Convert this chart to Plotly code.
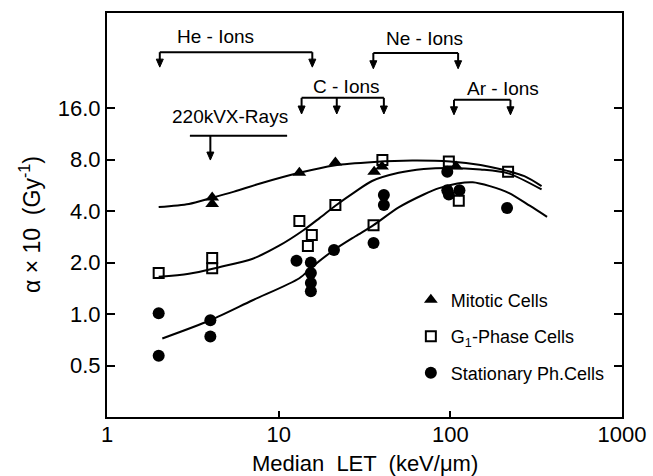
import numpy as np
import plotly.graph_objects as go

# ---- data ----
mit_let = [4.1, 4.1, 13.2, 21.4, 36.0, 40.0, 108.0]
mit_val = [4.8, 4.4, 6.7, 7.7, 6.8, 7.3, 7.3]

g1_let = [2.0, 4.1, 4.1, 13.2, 15.6, 14.8, 21.4, 35.7, 40.2, 98.0, 112.0, 217.0]
g1_val = [1.74, 2.13, 1.85, 3.5, 2.9, 2.5, 4.34, 3.31, 7.95, 7.8, 4.6, 6.8]

st_let = [2.0, 2.0, 4.0, 4.0, 12.7, 15.4, 15.4, 15.4, 15.4, 21.0, 35.7, 41.0, 41.0, 96.0, 96.0, 113.0, 98.0, 214.0]
st_val = [1.01, 0.57, 0.92, 0.74, 2.05, 2.0, 1.74, 1.52, 1.36, 2.37, 2.6, 4.96, 4.34, 6.8, 5.3, 5.3, 5.0, 4.17]

# fitted curves (knots)
mit_curve_let = [2.0, 3.0, 4.0, 5.5, 7.8, 13.2, 21.0, 36.0, 60.0, 100.0, 150.0, 200.0, 270.0, 340.0]
mit_curve_val = [4.22, 4.4, 4.75, 5.2, 5.8, 6.7, 7.4, 7.75, 7.9, 7.8, 7.45, 7.0, 6.4, 5.6]

g1_curve_let = [2.0, 3.0, 4.5, 7.0, 10.0, 14.0, 17.3, 21.4, 28.0, 35.0, 50.0, 70.0, 100.0, 150.0, 217.0, 340.0]
g1_curve_val = [1.65, 1.72, 1.88, 2.1, 2.5, 3.1, 3.64, 4.3, 5.2, 6.0, 6.7, 7.05, 7.15, 7.0, 6.65, 5.35]

st_curve_let = [2.1, 4.0, 7.0, 13.2, 15.6, 21.0, 28.0, 35.7, 50.0, 70.0, 86.0, 110.0, 135.0, 170.0, 220.0, 290.0, 366.0]
st_curve_val = [0.72, 0.92, 1.2, 1.62, 1.88, 2.37, 2.85, 3.31, 4.2, 5.0, 5.45, 5.8, 5.9, 5.6, 5.1, 4.3, 3.7]

# ion LET ranges (arrow positions)
he_let = [2.03, 15.7]
c_let = [13.6, 21.8, 41.0]
ne_let = [35.6, 111.0]
ar_let = [105.0, 224.0]
xray_line = [3.04, 11.2]
xray_let = [4.0]

x_ticks = [1, 10, 100, 1000]
x_ticklabels = ["1", "10", "100", "1000"]
y_ticks = [0.5, 1.0, 2.0, 4.0, 8.0, 16.0]
y_ticklabels = ["0.5", "1.0", "2.0", "4.0", "8.0", "16.0"]

FONT = "Liberation Sans"
PLOT_H = 404
PLOT_W = 515

fig = go.Figure()

for xs, ys in [(mit_curve_let, mit_curve_val), (g1_curve_let, g1_curve_val), (st_curve_let, st_curve_val)]:
    fig.add_trace(go.Scatter(x=xs, y=ys, mode="lines", line=dict(color="black", width=2, shape="spline", smoothing=0.8),
                             showlegend=False, hoverinfo="skip"))

fig.add_trace(go.Scatter(x=mit_let, y=mit_val, mode="markers", name="Mitotic Cells", legendgroup="a",
                         marker=dict(symbol="triangle-up", size=12, color="black")))
fig.add_trace(go.Scatter(x=g1_let, y=g1_val, mode="markers", name="G<sub>1</sub>-Phase Cells", legendgroup="b",
                         marker=dict(symbol="square-open", size=10, color="black", line=dict(width=2, color="black"))))
fig.add_trace(go.Scatter(x=st_let, y=st_val, mode="markers", name="Stationary Ph.Cells", legendgroup="c",
                         marker=dict(symbol="circle", size=12, color="black")))

shapes = []
annotations = []

def arrow(L, ybar, ytip):
    shapes.append(dict(type="line", xref="x", yref="paper", x0=L, x1=L, y0=ybar, y1=ytip + 6.0 / PLOT_H,
                       line=dict(color="black", width=2)))
    shapes.append(dict(type="path", xref="x", yref="paper", xsizemode="pixel", ysizemode="pixel",
                       xanchor=L, yanchor=ytip, path="M -3.5 8 L 3.5 8 L 0 0 Z",
                       fillcolor="black", line=dict(color="black", width=1)))

def bracket(lets, ybar, ytip):
    shapes.append(dict(type="line", xref="x", yref="paper", x0=min(lets), x1=max(lets), y0=ybar, y1=ybar,
                       line=dict(color="black", width=2)))
    for L in lets:
        arrow(L, ybar, ytip)

bracket(he_let, 0.903, 0.866)
bracket(ne_let, 0.901, 0.862)
bracket(c_let, 0.790, 0.750)
bracket(ar_let, 0.785, 0.748)
shapes.append(dict(type="line", xref="x", yref="paper", x0=xray_line[0], x1=xray_line[1], y0=0.696, y1=0.696,
                   line=dict(color="black", width=2)))
for L in xray_let:
    arrow(L, 0.696, 0.636)

labels = [("He - Ions", 4.26, 0.943), ("Ne - Ions", 71, 0.936), ("C - Ions", 25, 0.817),
          ("Ar - Ions", 202, 0.814), ("220kVX-Rays", 5.2, 0.743)]
for t, L, yy in labels:
    annotations.append(dict(xref="x", yref="paper", x=np.log10(L), y=yy, text=t, showarrow=False,
                            font=dict(family=FONT, size=19, color="black"), xanchor="center", yanchor="middle"))

# axis titles
annotations.append(dict(xref="paper", yref="paper", x=0.5, y=(417 - 463) / PLOT_H, text="Median  LET  (keV/μm)",
                        showarrow=False, font=dict(family=FONT, size=22, color="black"),
                        xanchor="center", yanchor="middle"))
annotations.append(dict(xref="paper", yref="paper", x=(30 - 107) / PLOT_W, y=(417 - 225) / PLOT_H,
                        text="α × 10  (Gy<sup>-1</sup>)", textangle=-90, showarrow=False,
                        font=dict(family=FONT, size=23, color="black"), xanchor="center", yanchor="middle"))

fig.update_layout(
    width=653, height=476,
    margin=dict(l=107, r=31, t=13, b=59),
    paper_bgcolor="white", plot_bgcolor="white",
    font=dict(family=FONT, color="black"),
    shapes=shapes, annotations=annotations,
    legend=dict(x=0.59, y=0.335, xanchor="left", yanchor="top", bgcolor="rgba(0,0,0,0)",
                font=dict(family=FONT, size=18, color="black"), tracegroupgap=10),
    xaxis=dict(type="log", range=[0, 3], tickvals=x_ticks, ticktext=x_ticklabels, ticks="inside", ticklen=6,
               tickwidth=2, tickcolor="black", showline=True, linecolor="black", linewidth=2, mirror=True,
               showgrid=False, zeroline=False, tickfont=dict(family=FONT, size=22), automargin=False,
               ticklabelstandoff=-3),
    yaxis=dict(type="log", range=[np.log10(0.25), np.log10(57.6)], tickvals=y_ticks, ticktext=y_ticklabels,
               ticks="inside", ticklen=8, tickwidth=2, tickcolor="black", showline=True, linecolor="black",
               linewidth=2, mirror="ticks", showgrid=False, zeroline=False, tickfont=dict(family=FONT, size=22),
               automargin=False),
)

fig.write_html("out.html")
